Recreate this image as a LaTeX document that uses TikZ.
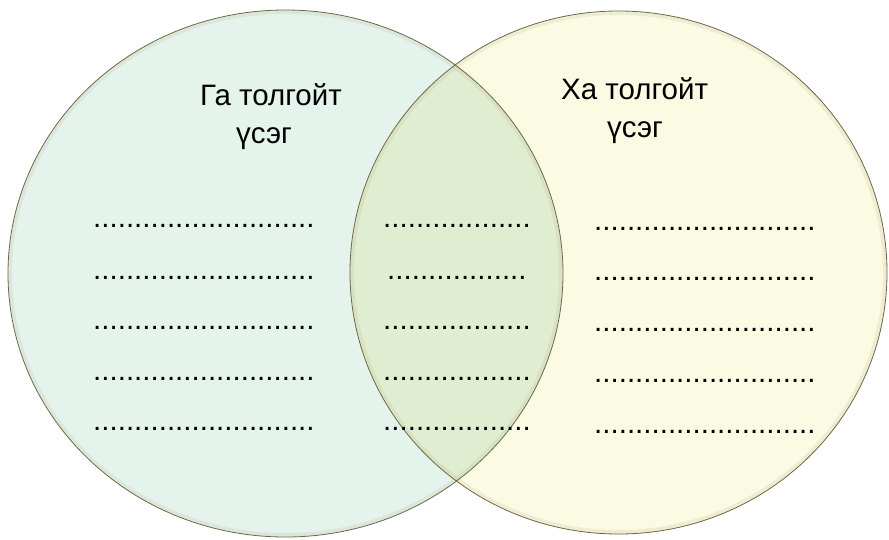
\documentclass[tikz,border=0pt]{standalone}
\usepackage{fontspec}
\setmainfont{Liberation Sans}
\definecolor{leftc}{HTML}{E4F3EC}
\definecolor{rightc}{HTML}{FBFAE3}
\definecolor{overc}{HTML}{E1EDD1}
\definecolor{rimc}{HTML}{6E6845}
\definecolor{glowc}{HTML}{A8A678}
\begin{document}
\begin{tikzpicture}[x=1pt,y=-1pt,
  lbl/.style={anchor=base west,inner sep=0pt,font=\fontsize{29.5}{35}\selectfont},
  dots/.style={anchor=base west,inner sep=0pt,font=\fontsize{29.5}{34}\selectfont},
  rim/.style={draw=rimc,line width=0.8pt},
  glow/.style={draw=glowc,line width=8pt,opacity=0.15}]
\useasboundingbox (0,0) rectangle (889,539);
\def\leftE{(285.5,273.5) ellipse [x radius=277.5,y radius=263.5]}
\def\rightE{(618.5,272.5) ellipse [x radius=268.5,y radius=261.5]}
% fills
\fill[leftc] \leftE;
\fill[rightc] \rightE;
\begin{scope}
  \clip \leftE;
  \fill[overc] \rightE;
\end{scope}
% inner glow
\begin{scope}
  \clip \leftE;
  \draw[glow] \leftE;
\end{scope}
\begin{scope}
  \clip \rightE;
  \draw[glow] \rightE;
\end{scope}
% rims
\draw[rim] \leftE;
\draw[rim] \rightE;
% titles
\node[lbl] (t1a) at (200,105) {Га толгойт};
\node[lbl] (t1b) at (236,143) {үсэг};
\node[lbl] (t2a) at (561,99) {Ха толгойт};
\node[lbl] (t2b) at (607,137) {үсэг};
% dotted rows, left
\foreach \y [count=\i] in {227,279,329,380,430}{
  \node[dots] (l\i) at (93,\y) {...........................};
}
% middle
\node[dots] (m1) at (383,227) {..................};
\node[dots] (m2) at (387,279) {.................};
\node[dots] (m3) at (383,329) {..................};
\node[dots] (m4) at (383,380) {..................};
\node[dots] (m5) at (383,430) {..................};
% right
\foreach \y [count=\i] in {230,280,331,382,433}{
  \node[dots] (r\i) at (594,\y) {...........................};
}
\end{tikzpicture}
\end{document}
